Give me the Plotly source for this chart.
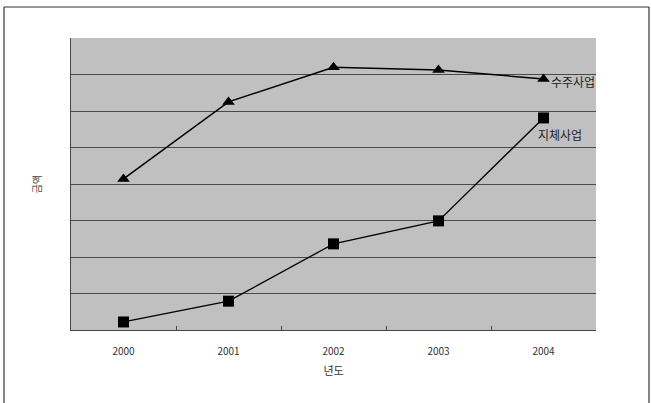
import plotly.graph_objects as go

years = ["2000", "2001", "2002", "2003", "2004"]
suju = [4.14, 6.25, 7.2, 7.12, 6.88]      # 수주사업
jiche = [0.22, 0.79, 2.36, 2.99, 5.81]    # 지체사업
series_names = ["수주사업", "지체사업"]

FONT = "Noto Sans CJK KR"

fig = go.Figure()
fig.add_trace(go.Scatter(
    x=years, y=suju, mode="lines+markers", name=series_names[0],
    line=dict(color="black", width=1.5),
    marker=dict(symbol="triangle-up", size=11, color="black"),
    cliponaxis=False,
))
fig.add_trace(go.Scatter(
    x=years, y=jiche, mode="lines+markers", name=series_names[1],
    line=dict(color="black", width=1.3),
    marker=dict(symbol="square", size=11, color="black"),
    cliponaxis=False,
))

fig.add_annotation(x=4, y=suju[-1], xref="x", yref="y", text=series_names[0],
                   showarrow=False, xanchor="left", yanchor="middle", xshift=5, yshift=-3,
                   font=dict(family=FONT, size=12, color="#222"))
fig.add_annotation(x=4, y=jiche[-1], xref="x", yref="y", text=series_names[1],
                   showarrow=False, xanchor="center", yanchor="top", xshift=16, yshift=-6,
                   font=dict(family=FONT, size=12, color="#222"))

PL, PT = 71, 38
PW = 525
PH = 292
# outer frame (three visible sides)
fx0 = (4 - PL) / PW
fx1 = (649 - PL) / PW
fy1 = (PT + PH - 7) / PH
fy0 = -0.4
frame_line = dict(color="#333", width=1.2)
fig.add_shape(type="line", xref="paper", yref="paper", x0=fx0, x1=fx1, y0=fy1, y1=fy1,
              line=frame_line, layer="above")
fig.add_shape(type="line", xref="paper", yref="paper", x0=fx0, x1=fx0, y0=fy0, y1=fy1,
              line=frame_line, layer="above")
fig.add_shape(type="line", xref="paper", yref="paper", x0=fx1, x1=fx1, y0=fy0, y1=fy1,
              line=frame_line, layer="above")

fig.update_layout(
    width=651, height=403,
    margin=dict(l=PL, r=651 - PL - PW, t=PT, b=403 - PT - PH),
    paper_bgcolor="white", plot_bgcolor="#c0c0c0",
    showlegend=False,
    font=dict(family=FONT, size=10, color="#333"),
    xaxis=dict(type="category", tickson="boundaries", ticks="inside", ticklen=4,
               tickcolor="#444", showgrid=False, showline=True, linecolor="#444", linewidth=1,
               tickfont=dict(size=10, color="#333"), ticklabelstandoff=12,
               title=dict(text="년도", font=dict(size=11, color="#333"), standoff=10),
               range=[-0.5, 4.5]),
    yaxis=dict(range=[0, 8], dtick=1, showticklabels=False, ticks="",
               showgrid=True, gridcolor="#4a4a4a", gridwidth=1,
               showline=True, linecolor="#444", linewidth=1, zeroline=False,
               title=dict(text="금액", font=dict(size=10, color="#444"), standoff=26)),
)

fig.write_html("out.html", config={"displayModeBar": False},
               post_script="document.body.style.margin='0';")
